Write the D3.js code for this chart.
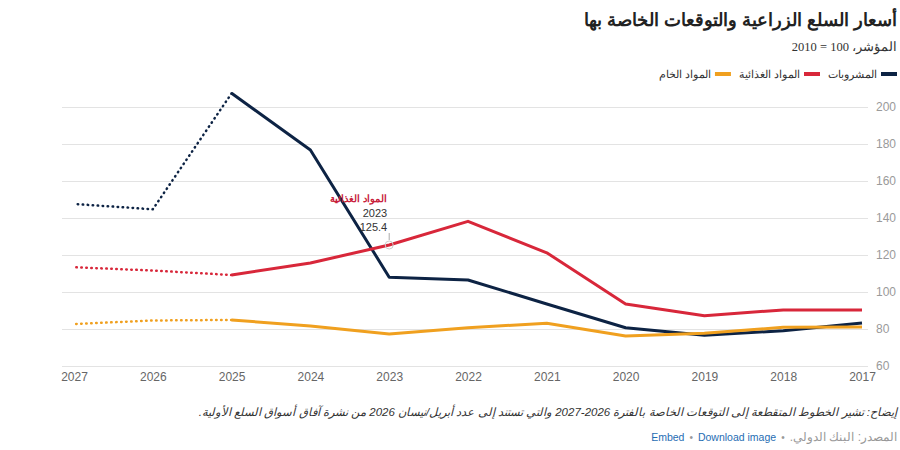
<!DOCTYPE html>
<html>
<head>
<meta charset="utf-8">
<script src="https://cdn.jsdelivr.net/npm/d3@7"></script>
<style>
  body { margin: 0; background: #fff; }
  svg { font-family: Arial, "Liberation Sans", sans-serif; }
</style>
</head>
<body>
<div id="container"></div>
<script>
let w = 900;
let h = 450;

// data
let years = [2017, 2018, 2019, 2020, 2021, 2022, 2023, 2024, 2025, 2026, 2027];
let beverages = [83.2, 79.1, 76.6, 80.7, 93.5, 106.5, 108, 176.8, 207.4, 144.7, 147.6];
let food = [90.3, 90.3, 87.2, 93.5, 121.2, 138.2, 125.4, 115.7, 109.2, 111.6, 113.4];
let rawMaterials = [81.1, 80.9, 77.7, 76.2, 83.1, 80.7, 77.3, 81.6, 84.9, 84.6, 82.7];
let forecastFrom = 2025;
let yTicks = [60, 80, 100, 120, 140, 160, 180, 200];

let seriesNames = ["المشروبات", "المواد الغذائية", "المواد الخام"];
let seriesColors = ["#0d2344", "#d8273a", "#f0a01f"];
let seriesValues = [beverages, food, rawMaterials];

let viz = d3.select("#container").append("svg")
  .attr("width", w)
  .attr("height", h);

// rtl text: with direction rtl, "start" anchors the right edge
function rtlText(sel, x, y, size){
  return sel.append("text")
    .attr("x", x).attr("y", y)
    .attr("direction", "rtl").attr("text-anchor", "start")
    .attr("font-size", size);
}

// titles
rtlText(viz, 897, 26, 18)
  .text("أسعار السلع الزراعية والتوقعات الخاصة بها")
  .attr("font-weight", "bold").attr("fill", "#222");

rtlText(viz, 897, 51, 12.5)
  .text("المؤشر، 100 = 2010")
  .attr("fill", "#333")
  .attr("font-family", "'Liberation Serif', serif");

// legend
let legendX = 897;
seriesNames.forEach(function(name, i){
  viz.append("line")
    .attr("x1", legendX - 16).attr("x2", legendX)
    .attr("y1", 74).attr("y2", 74)
    .attr("stroke", seriesColors[i]).attr("stroke-width", 4);
  let t = rtlText(viz, legendX - 20, 78, 11)
    .text(name)
    .attr("fill", "#333");
  legendX = legendX - 20 - t.node().getComputedTextLength() - 8;
});

// scales
let xScale = d3.scaleLinear().domain([2027, 2017]).range([74, 862]);
let yScale = d3.scaleLinear().domain([60, 200]).range([366, 107]);

// grid + right axis
let yAxis = d3.axisRight(yScale).tickValues(yTicks).tickSize(-806).tickPadding(8);
let yG = viz.append("g")
  .attr("transform", "translate(868,0)")
  .call(yAxis);
yG.select(".domain").remove();
yG.selectAll("line").attr("stroke", "#e3e3e3");
yG.selectAll("text").attr("fill", "#9a9a9a").attr("font-size", 12)
  .attr("dy", "0.32em").attr("x", 8);

// x axis
let xAxis = d3.axisBottom(xScale).tickValues(years).tickFormat(d3.format("d")).tickSize(0).tickPadding(6);
let xG = viz.append("g")
  .attr("transform", "translate(0,366)")
  .call(xAxis);
xG.select(".domain").remove();
xG.selectAll("text").attr("fill", "#666").attr("font-size", 12);

// lines
let lineMaker = d3.line()
  .x(d => xScale(d.year))
  .y(d => yScale(d.value));

seriesValues.forEach(function(vals, i){
  let pts = years.map((y, j) => ({year: y, value: vals[j]}));
  let actual = pts.filter(d => d.year <= forecastFrom);
  let forecast = pts.filter(d => d.year >= forecastFrom);
  viz.append("path")
    .attr("d", lineMaker(forecast))
    .attr("fill", "none")
    .attr("stroke", seriesColors[i])
    .attr("stroke-width", 2.5)
    .attr("stroke-linecap", "round")
    .attr("stroke-dasharray", "0.5,4.5");
  viz.append("path")
    .attr("d", lineMaker(actual))
    .attr("fill", "none")
    .attr("stroke", seriesColors[i])
    .attr("stroke-width", 3)
    .attr("stroke-linejoin", "round");
});

// annotation on food 2023
let ax = xScale(2023);
let ay = yScale(food[years.indexOf(2023)]);
viz.append("line")
  .attr("x1", ax).attr("x2", ax)
  .attr("y1", ay - 12).attr("y2", ay - 5)
  .attr("stroke", "#aaa").attr("stroke-width", 1);
viz.append("circle")
  .attr("cx", ax).attr("cy", ay).attr("r", 4)
  .attr("fill", "none").attr("stroke", "#ccc").attr("stroke-width", 1);
rtlText(viz, ax - 2, ay - 43, 10)
  .text("المواد الغذائية")
  .attr("font-weight", "bold").attr("fill", "#c8203a");
viz.append("text")
  .text("2023")
  .attr("x", ax - 2).attr("y", ay - 28)
  .attr("text-anchor", "end")
  .attr("font-size", 11).attr("fill", "#333");
viz.append("text")
  .text("125.4")
  .attr("x", ax - 2).attr("y", ay - 14)
  .attr("text-anchor", "end")
  .attr("font-size", 11).attr("fill", "#333");

// footer
rtlText(viz, 897, 416, 11.5)
  .text("إيضاح: تشير الخطوط المتقطعة إلى التوقعات الخاصة بالفترة 2026-2027 والتي تستند إلى عدد أبريل/نيسان 2026 من نشرة آفاق أسواق السلع الأولية.")
  .attr("font-style", "italic").attr("fill", "#333");

// source line, laid out right to left piece by piece
let footParts = [
  {text: "المصدر: البنك الدولي.", color: "#999", size: 12, rtl: true},
  {text: "•", color: "#999", size: 10},
  {text: "Download image", color: "#1f6db3", size: 10.5},
  {text: "•", color: "#999", size: 10},
  {text: "Embed", color: "#1f6db3", size: 10.5}
];
let fx = 897;
footParts.forEach(function(p){
  let t = viz.append("text")
    .text(p.text)
    .attr("x", fx).attr("y", 441)
    .attr("text-anchor", "end")
    .attr("font-size", p.size).attr("fill", p.color);
  if (p.rtl) t.attr("direction", "rtl").attr("text-anchor", "start");
  fx = fx - t.node().getComputedTextLength() - 5;
});
</script>
</body>
</html>
